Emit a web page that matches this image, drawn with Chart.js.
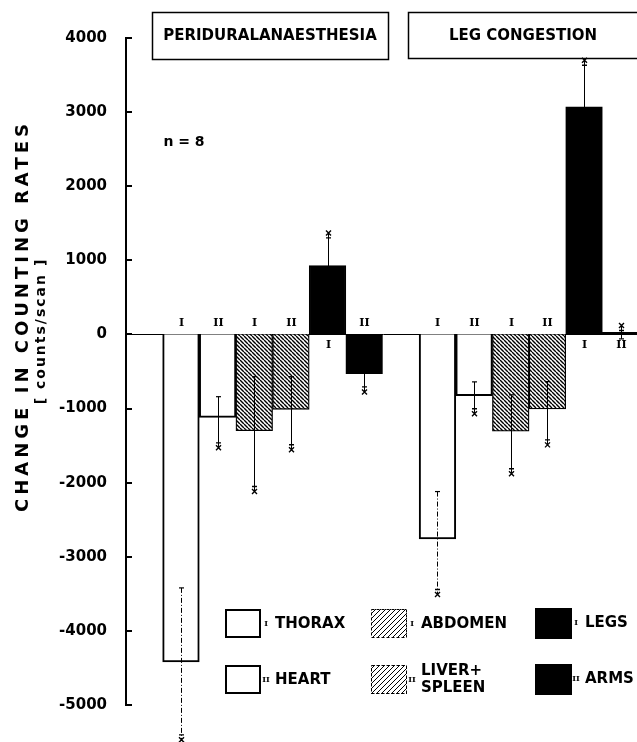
<!DOCTYPE html>
<html><head><meta charset="utf-8">
<script src="https://cdn.jsdelivr.net/npm/chart.js@4.4.1/dist/chart.umd.min.js"></script>
<style>
html,body{margin:0;padding:0;background:#fff;overflow:hidden;}
#wrap{width:637px;height:742px;overflow:hidden;position:relative;background:#fff;}
canvas{display:block;}
</style></head><body>
<div id="wrap"><canvas id="c" width="640" height="742"></canvas></div>
<script>
// ---------------- data ----------------
const conditions = ['PERIDURALANAESTHESIA', 'LEG CONGESTION'];
const regions = ['THORAX', 'HEART', 'ABDOMEN', 'LIVER+ SPLEEN', 'LEGS', 'ARMS'];
const romans = ['I', 'II', 'I', 'II', 'I', 'II'];
const periduralMean    = [-4420, -1120, -1300, -1010,  930, -530];
const periduralErrHigh = [-3420,  -840,  -570,  -570, 1370, -285];
const periduralErrLow  = [-5470, -1530, -2120, -1555,  490, -775];
const congestionMean    = [-2760,  -825, -1305, -1005, 3070,   30];
const congestionErrHigh = [-2120,  -640,  -815,  -636, 3700,  120];
const congestionErrLow  = [-3510, -1070, -1880, -1490, 2440,  -60];
const yTicks = [4000, 3000, 2000, 1000, 0, -1000, -2000, -3000, -4000, -5000];
const yAxisTitle = 'CHANGE IN COUNTING RATES';
const yAxisUnit = '[ counts/scan ]';
const sampleNote = 'n = 8';

// ---------------- styles ----------------
const FONT = '"DejaVu Sans", "Liberation Sans", sans-serif';
const SERIF = '"DejaVu Serif", "Liberation Serif", serif';
const regionKind = ['open', 'open', 'hatch', 'hatch', 'solid', 'solid'];

function makeHatch(size, lw, forward) {
  const c = document.createElement('canvas');
  c.width = size; c.height = size;
  const g = c.getContext('2d');
  g.fillStyle = '#fff'; g.fillRect(0, 0, size, size);
  g.strokeStyle = '#000'; g.lineWidth = lw;
  g.beginPath();
  for (let k = -1; k <= 1; k++) {
    if (forward) { g.moveTo(k * size, size); g.lineTo(k * size + size, 0); }
    else { g.moveTo(k * size, 0); g.lineTo(k * size + size, size); }
  }
  g.stroke();
  return g.createPattern(c, 'repeat');
}
const barHatch = makeHatch(4, 1.4, false);
const legendHatch = makeHatch(5, 1, true);

function fillFor(kind) {
  return kind === 'open' ? '#ffffff' : kind === 'hatch' ? barHatch : '#000000';
}

// ---------------- build table ----------------
const labels = ['gap-a'].concat(regions.map(r => 'P ' + r), ['gap-b'], regions.map(r => 'C ' + r));
const values = [null].concat(periduralMean, [null], congestionMean);
const kinds = [null].concat(regionKind, [null], regionKind);
const groups = [
  { offset: 1, mean: periduralMean, hi: periduralErrHigh, lo: periduralErrLow },
  { offset: 8, mean: congestionMean, hi: congestionErrHigh, lo: congestionErrLow }
];

const deco = {
  id: 'deco',
  beforeDatasetsDraw(chart) {
    const { ctx, chartArea: a, scales: { y } } = chart;
    const y0 = Math.round(y.getPixelForValue(0)) + 0.5;
    ctx.save();
    ctx.strokeStyle = '#000'; ctx.lineWidth = 1;
    ctx.beginPath(); ctx.moveTo(a.left, y0); ctx.lineTo(a.right + 5, y0); ctx.stroke();
    ctx.restore();
  },
  afterDatasetsDraw(chart) {
    const { ctx, scales: { y } } = chart;
    const meta = chart.getDatasetMeta(0);
    const y0 = y.getPixelForValue(0);
    ctx.save();
    groups.forEach(g => {
      g.mean.forEach((m, i) => {
        const el = meta.data[g.offset + i];
        const x = Math.round(el.x) + 0.5;
        const yh = y.getPixelForValue(g.hi[i]);
        const yl = y.getPixelForValue(g.lo[i]);
        ctx.strokeStyle = '#000'; ctx.lineWidth = 1;
        ctx.setLineDash(i === 0 ? [5, 2, 1, 2] : []);
        ctx.beginPath(); ctx.moveTo(x, yh); ctx.lineTo(x, yl); ctx.stroke();
        ctx.setLineDash([]);
        const inner = m < 0 ? yh : yl;
        const outer = m < 0 ? yl : yh;
        const dir = m < 0 ? 1 : -1;
        ctx.lineWidth = 1.2;
        ctx.beginPath(); ctx.moveTo(x - 2.5, inner); ctx.lineTo(x + 2.5, inner); ctx.stroke();
        ctx.lineWidth = 1.4;
        ctx.beginPath();
        ctx.moveTo(x - 2.5, outer - 2.5 * dir); ctx.lineTo(x + 2.5, outer + 2.5 * dir);
        ctx.moveTo(x + 2.5, outer - 2.5 * dir); ctx.lineTo(x - 2.5, outer + 2.5 * dir);
        ctx.moveTo(x - 2.5, outer - 5 * dir); ctx.lineTo(x + 2.5, outer - 5 * dir);
        ctx.stroke();
        ctx.fillStyle = '#000';
        ctx.font = 'bold 11px ' + SERIF;
        ctx.textAlign = 'center'; ctx.textBaseline = 'middle';
        ctx.fillText(romans[i], x, m < 0 ? y0 - 11 : y0 + 11);
      });
    });
    ctx.restore();
  },
  afterDraw(chart) {
    const { ctx, chartArea: a, scales: { y } } = chart;
    ctx.save();
    ctx.strokeStyle = '#000'; ctx.lineWidth = 2;
    yTicks.forEach(v => {
      const py = Math.round(y.getPixelForValue(v));
      ctx.beginPath(); ctx.moveTo(a.left - 1, py); ctx.lineTo(a.left + 6, py); ctx.stroke();
    });
    ctx.lineWidth = 1.5;
    ctx.fillStyle = '#000';
    ctx.font = 'bold 15px ' + FONT;
    ctx.textAlign = 'center'; ctx.textBaseline = 'middle';
    const boxes = [[152, 12, 236, 47, 270], [408, 12, 240, 46, 523]];
    boxes.forEach((b, k) => {
      ctx.strokeRect(b[0] + 0.5, b[1] + 0.5, b[2], b[3]);
      ctx.fillText(conditions[k], b[4], b[1] + b[3] / 2 + 1);
    });
    ctx.font = 'bold 14px ' + FONT;
    ctx.fillText(sampleNote, 184, 142);
    ctx.save();
    ctx.translate(23, 316); ctx.rotate(-Math.PI / 2);
    ctx.font = 'bold 18px ' + FONT;
    ctx.letterSpacing = '4px';
    ctx.fillText(yAxisTitle, 0, 0);
    ctx.restore();
    ctx.save();
    ctx.translate(41, 331); ctx.rotate(-Math.PI / 2);
    ctx.font = 'bold 14px ' + FONT;
    ctx.letterSpacing = '2px';
    ctx.fillText(yAxisUnit, 0, 0);
    ctx.restore();
    const lpos = [[225, 609], [225, 665], [371, 609], [371, 665], [535, 608], [535, 664]];
    regions.forEach((r, i) => {
      const [lx, ly] = lpos[i];
      const kind = regionKind[i];
      const w = 36, h = 29;
      if (kind === 'open') {
        ctx.fillStyle = '#fff'; ctx.fillRect(lx, ly, w, h);
        ctx.lineWidth = 2; ctx.strokeStyle = '#000'; ctx.strokeRect(lx + 1, ly + 1, w - 2, h - 2);
      } else if (kind === 'hatch') {
        ctx.fillStyle = legendHatch; ctx.fillRect(lx, ly, w, h);
        ctx.lineWidth = 1; ctx.strokeStyle = '#000'; ctx.setLineDash([3, 2]);
        ctx.strokeRect(lx + 0.5, ly + 0.5, w - 1, h - 1); ctx.setLineDash([]);
      } else {
        ctx.fillStyle = '#000'; ctx.fillRect(lx, ly, w + 1, h + 2);
      }
      ctx.fillStyle = '#000';
      ctx.font = 'bold 8px ' + SERIF;
      ctx.textAlign = 'center'; ctx.textBaseline = 'middle';
      ctx.fillText(romans[i], lx + w + 5, ly + h / 2);
      ctx.font = 'bold 15px ' + FONT;
      ctx.textAlign = 'left';
      const parts = r.split(' ');
      const tx = lx + w + 14;
      if (parts.length === 1) ctx.fillText(r, tx, ly + h / 2 + 1);
      else { ctx.fillText(parts[0], tx, ly + 6); ctx.fillText(parts[1], tx, ly + 23); }
    });
    ctx.restore();
  }
};

new Chart(document.getElementById('c'), {
  type: 'bar',
  data: {
    labels: labels,
    datasets: [{
      data: values,
      backgroundColor: kinds.map(k => k ? fillFor(k) : '#fff'),
      borderColor: '#000',
      borderWidth: kinds.map(k => k === 'open' ? 2 : 1.3),
      borderSkipped: 'start',
      categoryPercentage: 1,
      barPercentage: 1
    }]
  },
  options: {
    responsive: false,
    animation: false,
    layout: { padding: { left: 0, top: 38, right: 1, bottom: 37 } },
    plugins: { legend: { display: false }, tooltip: { enabled: false } },
    scales: {
      x: { display: false },
      y: {
        min: -5000, max: 4000,
        afterFit: s => { s.width = 126; },
        afterBuildTicks: s => { s.ticks = yTicks.map(v => ({ value: v })); },
        grid: { display: false, drawTicks: false },
        border: { display: true, color: '#000', width: 2 },
        ticks: { color: '#000', padding: 19, callback: v => String(v), font: { family: FONT, size: 15, weight: 'bold' } }
      }
    }
  },
  plugins: [deco]
});
</script>
</body></html>
